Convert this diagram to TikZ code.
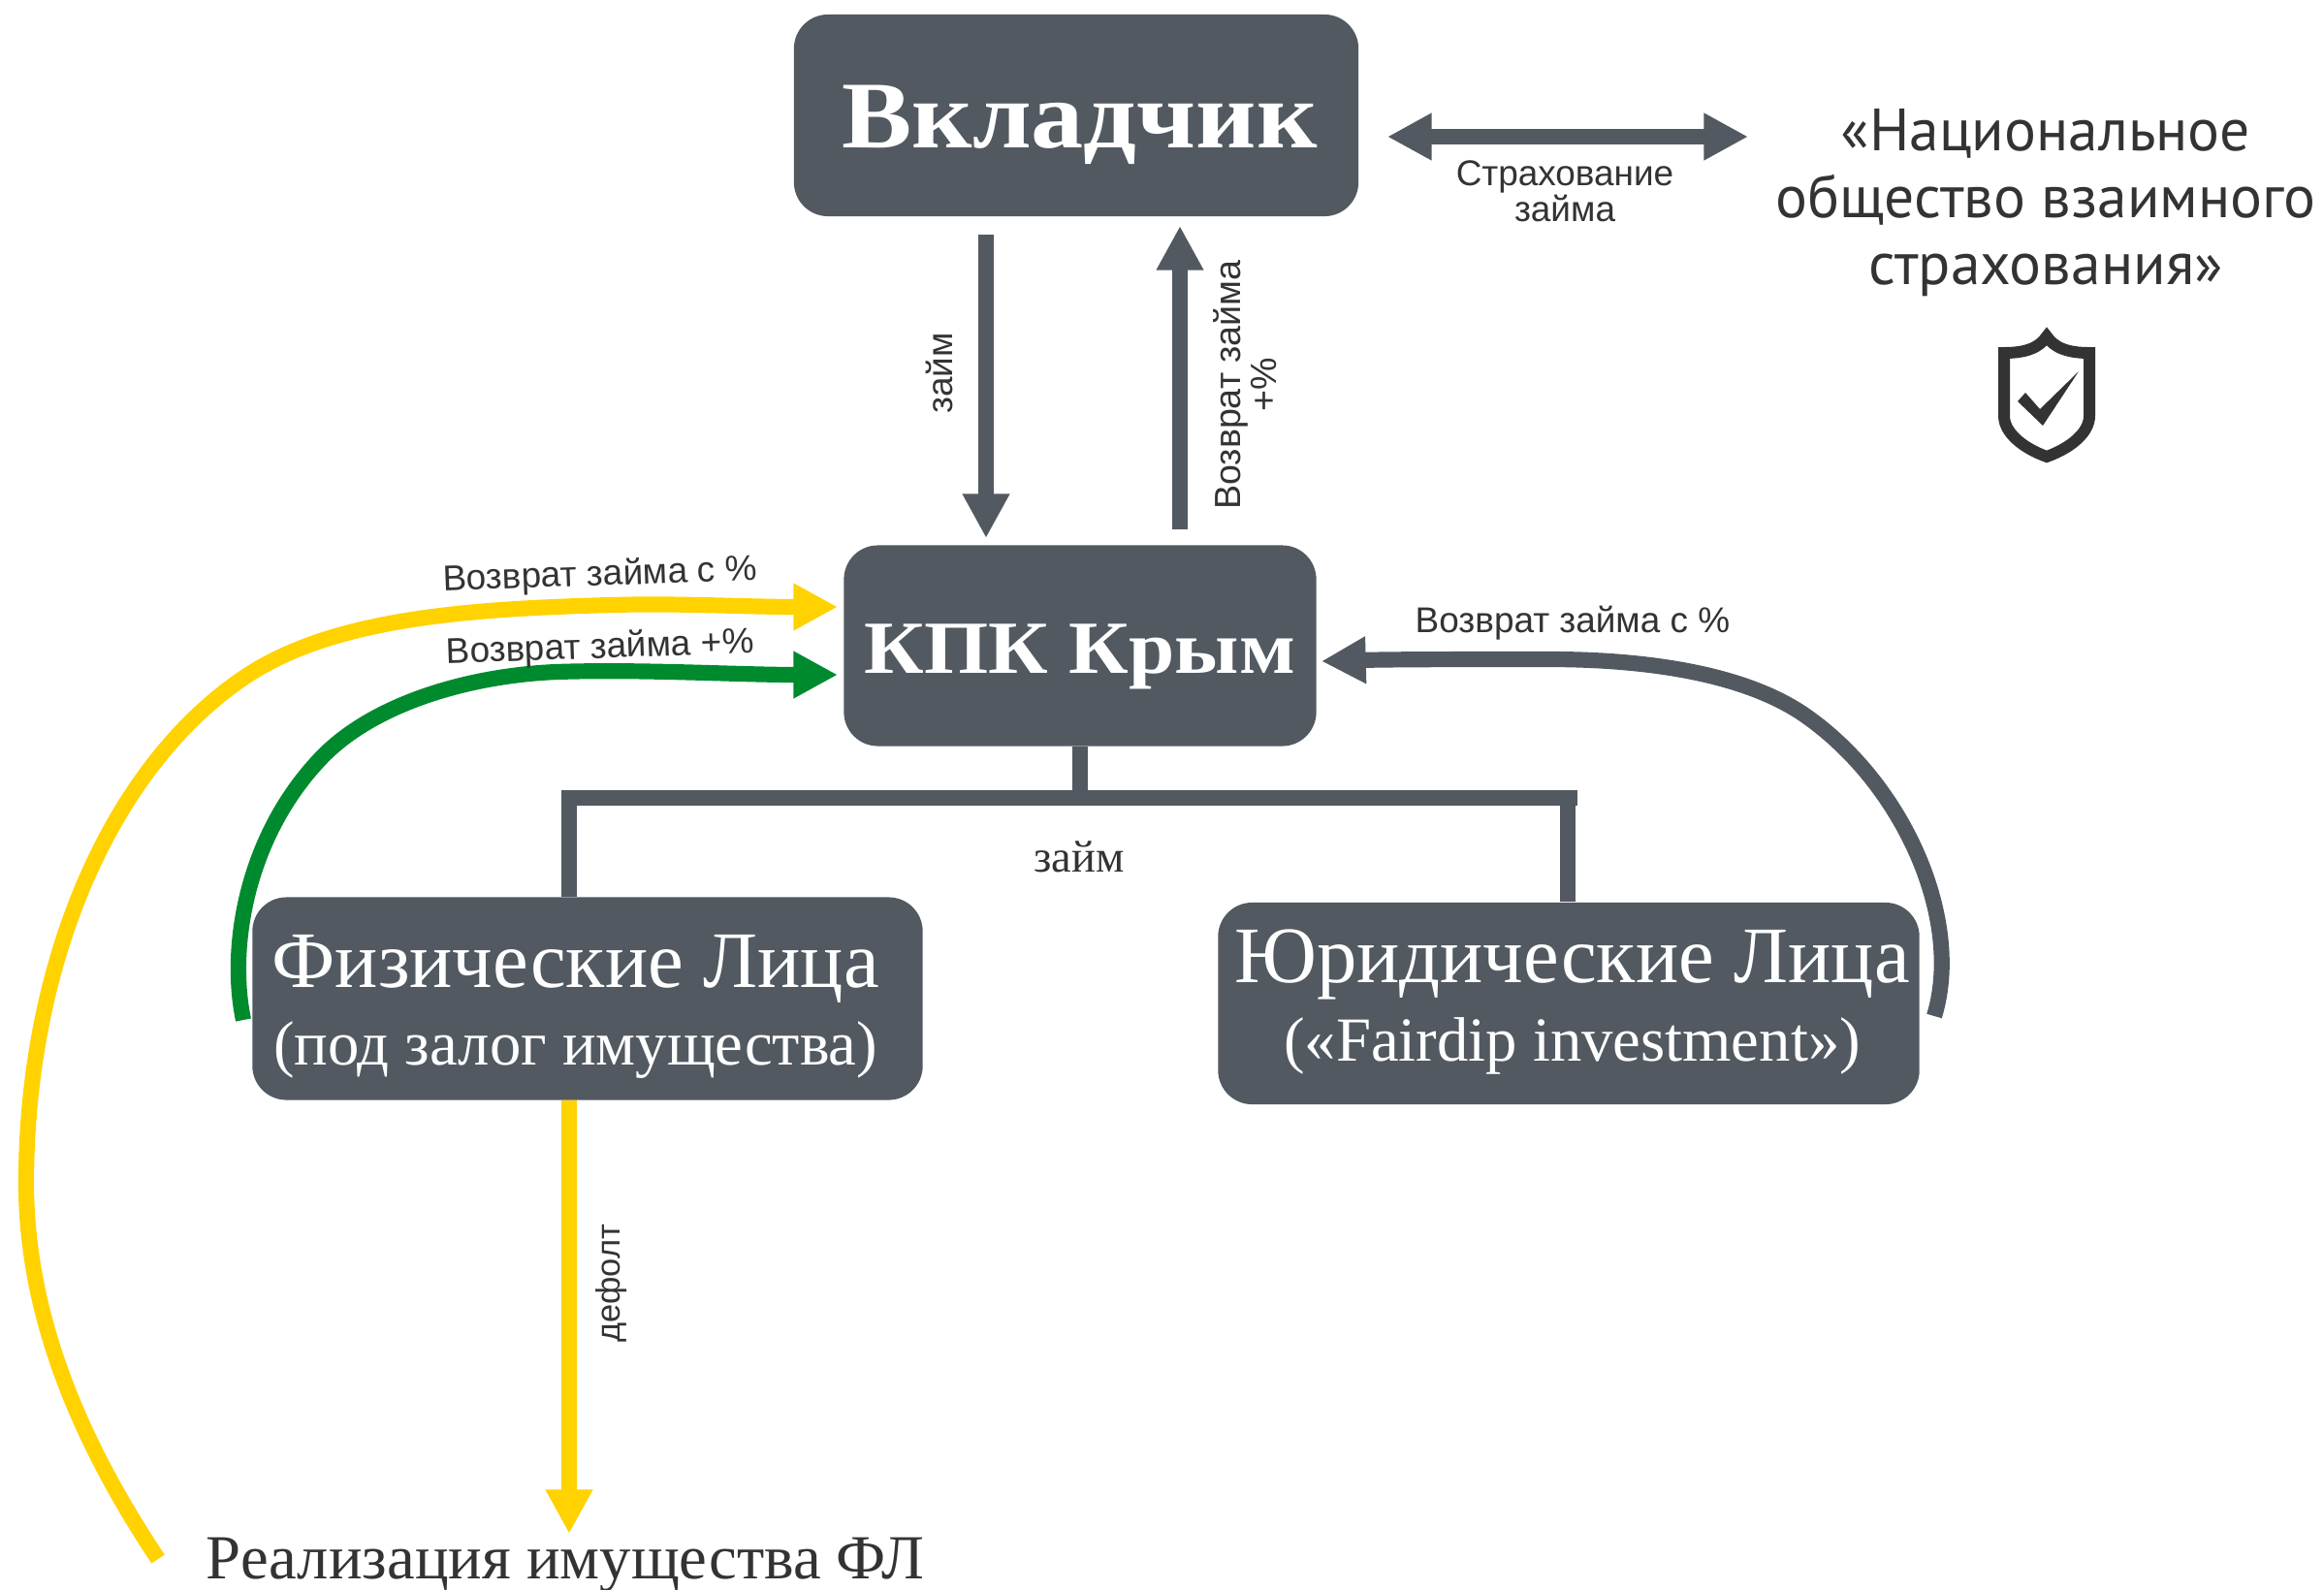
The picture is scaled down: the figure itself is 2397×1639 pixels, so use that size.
\documentclass[tikz,border=0pt]{standalone}
\usepackage{fontspec}
\setmainfont{Liberation Serif}
\setsansfont{Liberation Sans}
\newfontfamily\orgfont{PT Sans}
\newfontfamily\wideserif[FakeStretch=1.1]{Liberation Serif}
\usepackage{tikz}
\usetikzlibrary{arrows.meta}
\definecolor{boxgrey}{HTML}{525961}
\definecolor{flowyellow}{HTML}{FFD200}
\definecolor{flowgreen}{HTML}{008A2E}
\definecolor{inkgrey}{HTML}{333333}
\newcommand{\boxtext}[3]{\makebox[0pt]{\hspace*{#1}\raisebox{#2}[0pt][0pt]{#3}}}
\newcommand{\twolines}[2]{\parbox[t]{7.2cm}{\centering\fontsize{23.5}{23}\selectfont #1\\\fontsize{18.4}{23}\selectfont #2}}

\begin{document}
\begin{tikzpicture}[x=0.01cm,y=-0.01cm]
\tikzstyle{box} = [fill=boxgrey, rounded corners=10pt, text=white, inner sep=0pt]
\tikzstyle{flow} = [line width=4.6pt, draw=boxgrey, -{Triangle[length=13pt,width=13pt]}]
\tikzstyle{note} = [inner sep=0pt, align=center, text=inkgrey, font=\sffamily\fontsize{10.5}{10.6}\selectfont]
\useasboundingbox (0,0) rectangle (2397,1639);

\node[box, minimum width=5.82cm, minimum height=2.08cm, font=\wideserif\bfseries\fontsize{28}{30}\selectfont] (vkl) at (1110,119) {\boxtext{2pt}{-9.4pt}{Вкладчик}};
\node[box, minimum width=4.87cm, minimum height=2.07cm, font=\wideserif\bfseries\fontsize{22}{25}\selectfont] (kpk) at (1114,666) {\boxtext{0pt}{-8pt}{КПК Крым}};
\node[box, minimum width=6.91cm, minimum height=2.09cm] (fiz) at (606,1030) {\boxtext{-7pt}{3.4pt}{\twolines{Физические Лица}{(под залог имущества)}}};
\node[box, minimum width=7.23cm, minimum height=2.08cm] (yur) at (1618,1035) {\boxtext{2pt}{6.2pt}{\twolines{Юридические Лица}{(«Fairdip investment»)}}};
\node[inner sep=0pt, align=center, text=inkgrey, font=\orgfont\fontsize{17.5}{19.6}\selectfont] (nac) at (2110,209) {«Национальное\\общество взаимного\\страхования»};
\node[inner sep=0pt, anchor=base, text=inkgrey, font=\fontsize{18.4}{20}\selectfont] (real) at (583,1628) {Реализация имущества ФЛ};

\coordinate (yelstart) at (163,1608);
\coordinate (grnstart) at (251,1052);
\coordinate (gryend) at (1995,1048);

\draw[flow] (1017,242) -- (1017,555);
\draw[flow] (1217,546) -- (1217,233);
\draw[flow, {Triangle[length=13pt,width=13pt]}-{Triangle[length=13pt,width=13pt]}] (1431,141) -- (1803,141);
\draw[line width=4.6pt, draw=boxgrey] (kpk.south) -- (kpk.south |- 0,823) (579,823) -- (1627,823) (587,823) -- (fiz.north -| 587,0) (1617,823) -- (yur.north -| 1617,0);
\draw[flow, draw=flowyellow] (fiz.south -| 587,0) -- (587,1582);

\draw[flow, draw=flowyellow] (yelstart) .. controls (73,1473) and (27,1345) .. (27,1220)
    .. controls (27,1000) and (110,796) .. (250,700)
    .. controls (340,638) and (480,628) .. (631,624)
    .. controls (700,622) and (770,626) .. (864,626);
\draw[flow, draw=flowgreen] (grnstart) .. controls (235,975) and (255,860) .. (333,780)
    .. controls (385,727) and (480,697) .. (574,693)
    .. controls (660,690) and (760,696) .. (864,696);
\draw[flow] (gryend) .. controls (2025,950) and (1965,810) .. (1862,738)
    .. controls (1800,695) and (1700,680) .. (1597,680)
    .. controls (1520,680) and (1440,680) .. (1363,682);

\node[note] (strah) at (1614,197) {Страхование\\займа};
\node[note, rotate=90] (zaim1) at (969,385) {займ};
\node[note, rotate=90, font=\sffamily\fontsize{10.7}{10.6}\selectfont] (vozv1) at (1284,397) {Возврат займа\\+\%};
\node[note, rotate=2] (vozv2) at (619,594) {Возврат займа с \%};
\node[note, rotate=2] (vozv3) at (619,669) {Возврат займа +\%};
\node[note] (vozv4) at (1622,643) {Возврат займа с \%};
\node[note, font=\fontsize{13.2}{14}\selectfont] (zaim2) at (1113,884) {займ};
\node[note, rotate=90, font=\sffamily\fontsize{9.8}{10}\selectfont] (def) at (631,1324) {дефолт};

% shield
\coordinate (shield) at (2111,342);
\begin{scope}[shift={(shield)}]
\draw[line width=3.4pt, draw=inkgrey, fill=white, line join=miter] (0,5) .. controls (-8,17) and (-22,22) .. (-44,22) -- (-44,87) .. controls (-44,104) and (-25,120) .. (0,129) .. controls (25,120) and (44,104) .. (44,87) -- (44,22) .. controls (22,22) and (8,17) .. (0,5) -- cycle;
\fill[inkgrey] (-30,72) -- (-22,63) -- (-7,80) -- (33,41) -- (-4,97) -- cycle;
\end{scope}
\end{tikzpicture}
\end{document}
